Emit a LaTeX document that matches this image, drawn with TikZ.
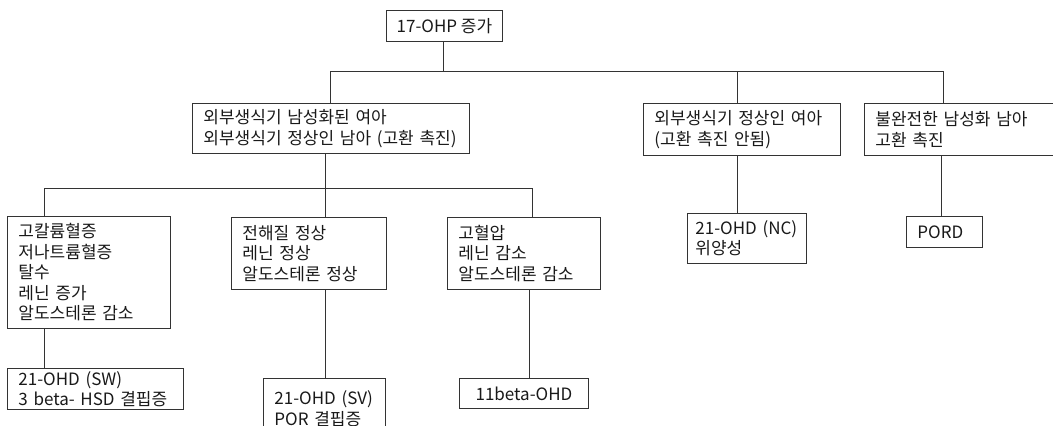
\documentclass[tikz,border=0pt]{standalone}
\usepackage{fontspec}
\setmainfont{Noto Sans CJK KR}
\tikzset{
  box/.style={draw=black!80, line width=0.9pt, anchor=north west, align=left,
    inner xsep=11pt, inner ysep=0pt, font=\fontsize{17}{20.5}\selectfont, text=black!90},
  link/.style={draw=black!80, line width=0.9pt}
}
\begin{document}
\begin{tikzpicture}[x=1pt, y=-1pt]
    \useasboundingbox (0,0) rectangle (1053,426);

    % top
    \node[box, align=center, inner xsep=0pt, minimum width=116pt, minimum height=31pt] (ohp) at (386,10) {17-OHP 증가};

    % second row
    \node[box, text width=255pt, minimum height=50pt] (virF) at (192,103) {외부생식기 남성화된 여아\\외부생식기 정상인 남아 (고환 촉진)};
    \node[box, text width=175pt, minimum height=52pt] (normF) at (643,103) {외부생식기 정상인 여아\\(고환 촉진 안됨)};
    \node[box, text width=200pt, minimum height=52pt] (incM) at (864,103) {불완전한 남성화 남아\\고환 촉진};

    % third row
    \node[box, text width=141pt, minimum height=112pt] (saltW) at (7,216) {고칼륨혈증\\저나트륨혈증\\탈수\\레닌 증가\\알도스테론 감소};
    \node[box, text width=133pt, minimum height=72pt] (simpV) at (231,217) {전해질 정상\\레닌 정상\\알도스테론 정상};
    \node[box, text width=131pt, minimum height=72pt] (hyperT) at (447,217) {고혈압\\레닌 감소\\알도스테론 감소};
    \node[box, inner xsep=8pt, text width=103pt, minimum height=50pt] (ncOHD) at (687,213) {21-OHD (NC)\\위양성};
    \node[box, text width=54pt, minimum height=31pt] (pord) at (906,216) {PORD};

    % bottom row
    \node[box, text width=154pt, minimum height=41pt] (swOHD) at (7,368) {21-OHD (SW)\\3 beta- HSD 결핍증};
    \node[box, text width=100pt, minimum height=60pt] (svOHD) at (263,378) {21-OHD (SV)\\POR 결핍증};
    \node[box, align=center, inner xsep=0pt, minimum width=129pt, minimum height=30pt] (betaOHD) at (459,378) {11beta-OHD};

    % junctions
    \coordinate (j0) at (443,71);
    \coordinate (bus1w) at (330,71);
    \coordinate (bus1m) at (737,71);
    \coordinate (bus1e) at (943,71);
    \coordinate (j1) at (325,188);
    \coordinate (bus2w) at (44,188);
    \coordinate (bus2e) at (532,188);

    \draw[link] (ohp.south -| j0) -- (j0);
    \draw[link] (bus1w) -- (bus1e);
    \draw[link] (bus1w) -- (bus1w |- virF.north);
    \draw[link] (bus1m) -- (bus1m |- normF.north);
    \draw[link] (bus1e) -- (bus1e |- incM.north);

    \draw[link] (virF.south -| j1) -- (j1);
    \draw[link] (bus2w) -- (bus2e);
    \draw[link] (bus2w) -- (bus2w |- saltW.north);
    \draw[link] (j1) -- (j1 |- simpV.north);
    \draw[link] (bus2e) -- (bus2e |- hyperT.north);

    \draw[link] (saltW.south -| bus2w) -- (swOHD.north -| bus2w);
    \draw[link] (simpV.south -| j1) -- (svOHD.north -| j1);
    \draw[link] ([xshift=-3pt]hyperT.south -| bus2e) -- ([xshift=-3pt]betaOHD.north -| bus2e);
    \draw[link] (normF.south -| bus1m) -- (ncOHD.north -| bus1m);
    \draw[link] ([xshift=-2pt]incM.south -| bus1e) -- ([xshift=-2pt]pord.north -| bus1e);
\end{tikzpicture}
\end{document}
